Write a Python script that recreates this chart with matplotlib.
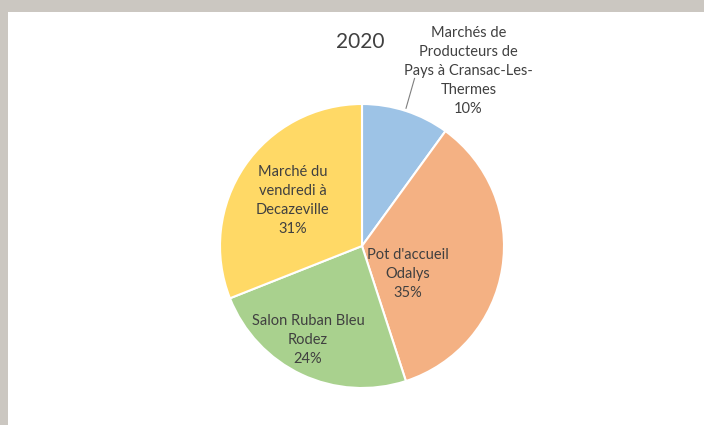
import matplotlib.pyplot as plt

# data
labels = ["Marchés de\nProducteurs de\nPays à Cransac-Les-\nThermes",
          "Pot d'accueil\nOdalys",
          "Salon Ruban Bleu\nRodez",
          "Marché du\nvendredi à\nDecazeville"]
shares = [10, 35, 24, 31]
colors = ['#9DC3E6', '#F4B183', '#A9D18E', '#FFD966']
# label anchor positions (in pie-radius units)
label_pos = [(0.75, 1.23), (0.32, -0.20), (-0.38, -0.66), (-0.49, 0.32)]

W, H = 704, 425
cx, cy, r = 362, 246, 142

fig = plt.figure(figsize=(W / 100, H / 100), dpi=100)
fig.patch.set_facecolor('white')

# gray frame at top and left
fig.add_artist(plt.Rectangle((0, 1 - 12 / H), 1, 12 / H, transform=fig.transFigure,
                             color='#CBC7C1', lw=0))
fig.add_artist(plt.Rectangle((0, 0), 8 / W, 1, transform=fig.transFigure,
                             color='#CBC7C1', lw=0))

ax = fig.add_axes([(cx - r) / W, (H - cy - r) / H, 2 * r / W, 2 * r / H])
ax.pie(shares, colors=colors, startangle=90, counterclock=False, radius=1,
       wedgeprops=dict(edgecolor='white', linewidth=1.5))
ax.set_xlim(-1, 1)
ax.set_ylim(-1, 1)
ax.set_aspect('equal')
ax.axis('off')

for lab, s, (x, y) in zip(labels, shares, label_pos):
    ax.text(x, y, f"{lab}\n{s}%", ha='center', va='center', fontsize=10.5,
            family='Lato', color='#404040', linespacing=1.45)

# leader line for the small slice
ax.plot([0.31, 0.37], [0.97, 1.18], color='#7F7F7F', lw=0.8, clip_on=False)

fig.text(360 / W, 1 - 42 / H, "2020", ha='center', va='center', fontsize=15,
         family='Lato', color='#404040')

fig.savefig('out.png', dpi=100)
